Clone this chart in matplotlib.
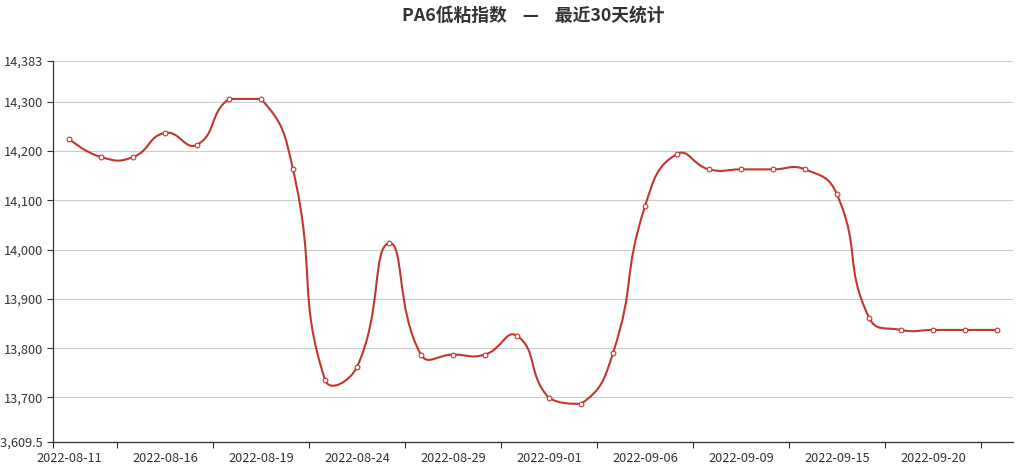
import matplotlib
matplotlib.use("Agg")
import matplotlib.pyplot as plt
import numpy as np
from matplotlib.path import Path
from matplotlib.patches import PathPatch
from matplotlib.ticker import FuncFormatter

plt.rcParams['font.family'] = ['Noto Sans CJK SC', 'DejaVu Sans']

title = "PA6低粘指数    —    最近30天统计"

dates = ["2022-08-11", "2022-08-12", "2022-08-15", "2022-08-16", "2022-08-17",
         "2022-08-18", "2022-08-19", "2022-08-22", "2022-08-23", "2022-08-24",
         "2022-08-25", "2022-08-26", "2022-08-29", "2022-08-30", "2022-08-31",
         "2022-09-01", "2022-09-02", "2022-09-05", "2022-09-06", "2022-09-07",
         "2022-09-08", "2022-09-09", "2022-09-13", "2022-09-14", "2022-09-15",
         "2022-09-16", "2022-09-19", "2022-09-20", "2022-09-21", "2022-09-22"]

values = [14225, 14188, 14188, 14237, 14213, 14306, 14306, 14163, 13736, 13762,
          14013, 13787, 13787, 13787, 13825, 13699, 13687, 13790, 14088, 14194,
          14163, 14163, 14163, 14163, 14112, 13862, 13837, 13837, 13837, 13837]

y_ticks = [13609.5, 13700, 13800, 13900, 14000, 14100, 14200, 14300, 14383]

line_color = "#c23531"
text_color = "#333333"

fig = plt.figure(figsize=[10.2, 4.7], dpi=100)
ax = fig.add_axes([53 / 1020, 28 / 470, 960 / 1020, 381 / 470])

n = len(values)
ax.set_xlim(-0.5, n - 0.5)
ax.set_ylim(y_ticks[0], y_ticks[-1])

# smooth line like echarts (smooth: true -> 0.5, bounding-box constraint), done in pixel space
sx = 960 / n
sy = 381 / (y_ticks[-1] - y_ticks[0])
pts = np.column_stack([np.arange(n) * sx, np.array(values, dtype=float) * sy])
smooth = 0.5
pmin = pts.min(axis=0)
pmax = pts.max(axis=0)
verts = [pts[0]]
codes = [Path.MOVETO]
cp0 = pts[0].copy()
for i in range(1, n):
    p = pts[i]
    prev = pts[i - 1]
    if i == n - 1:
        cp1 = p.copy()
        v = np.zeros(2)
        ratio = 0.5
    else:
        nxt = pts[i + 1]
        v = nxt - prev
        d_prev = np.hypot(*(p - prev))
        d_next = np.hypot(*(p - nxt))
        ratio = d_next / (d_next + d_prev)
        cp1 = p - v * smooth * (1 - ratio)
    c0 = np.clip(cp0, pmin, pmax)
    c1 = np.clip(cp1, pmin, pmax)
    verts += [c0, c1, p]
    codes += [Path.CURVE4] * 3
    cp0 = p + v * smooth * ratio

verts = np.array(verts)
verts[:, 0] /= sx
verts[:, 1] /= sy
ax.add_patch(PathPatch(Path(verts, codes), facecolor="none", edgecolor=line_color,
                       lw=1.5, zorder=3, clip_on=False))
ax.plot(np.arange(n), values, ls="none", marker="o", ms=3.4, mfc="white",
        mec=line_color, mew=0.8, zorder=4, clip_on=False)

# y axis
ax.set_yticks(y_ticks)
ax.yaxis.set_major_formatter(FuncFormatter(lambda v, p: f"{v:,.1f}".rstrip("0").rstrip(".")))
ax.grid(axis="y", color="#cccccc", lw=0.8)
ax.set_axisbelow(True)

# x axis: labels every 3rd category, ticks on band boundaries
ax.set_xticks(np.arange(0, n, 3))
ax.set_xticklabels(dates[::3])
ax.set_xticks(list(np.arange(1.5, n - 1, 3)) + [-0.5], minor=True)
ax.tick_params(axis="x", which="major", length=0, pad=7, labelsize=9.2, labelcolor=text_color)
ax.tick_params(axis="x", which="minor", length=4, width=0.8, color=text_color)
ax.tick_params(axis="y", length=4, width=0.8, color=text_color, pad=3,
               labelsize=9.2, labelcolor=text_color)

for side in ["top", "right"]:
    ax.spines[side].set_visible(False)
for side in ["left", "bottom"]:
    ax.spines[side].set_color(text_color)
    ax.spines[side].set_linewidth(0.9)

fig.text(533 / 1020, 1 - 16 / 470, title, ha="center", va="center",
         fontsize=12.8, fontweight="bold", color=text_color)

fig.savefig("out.png", dpi=100)
